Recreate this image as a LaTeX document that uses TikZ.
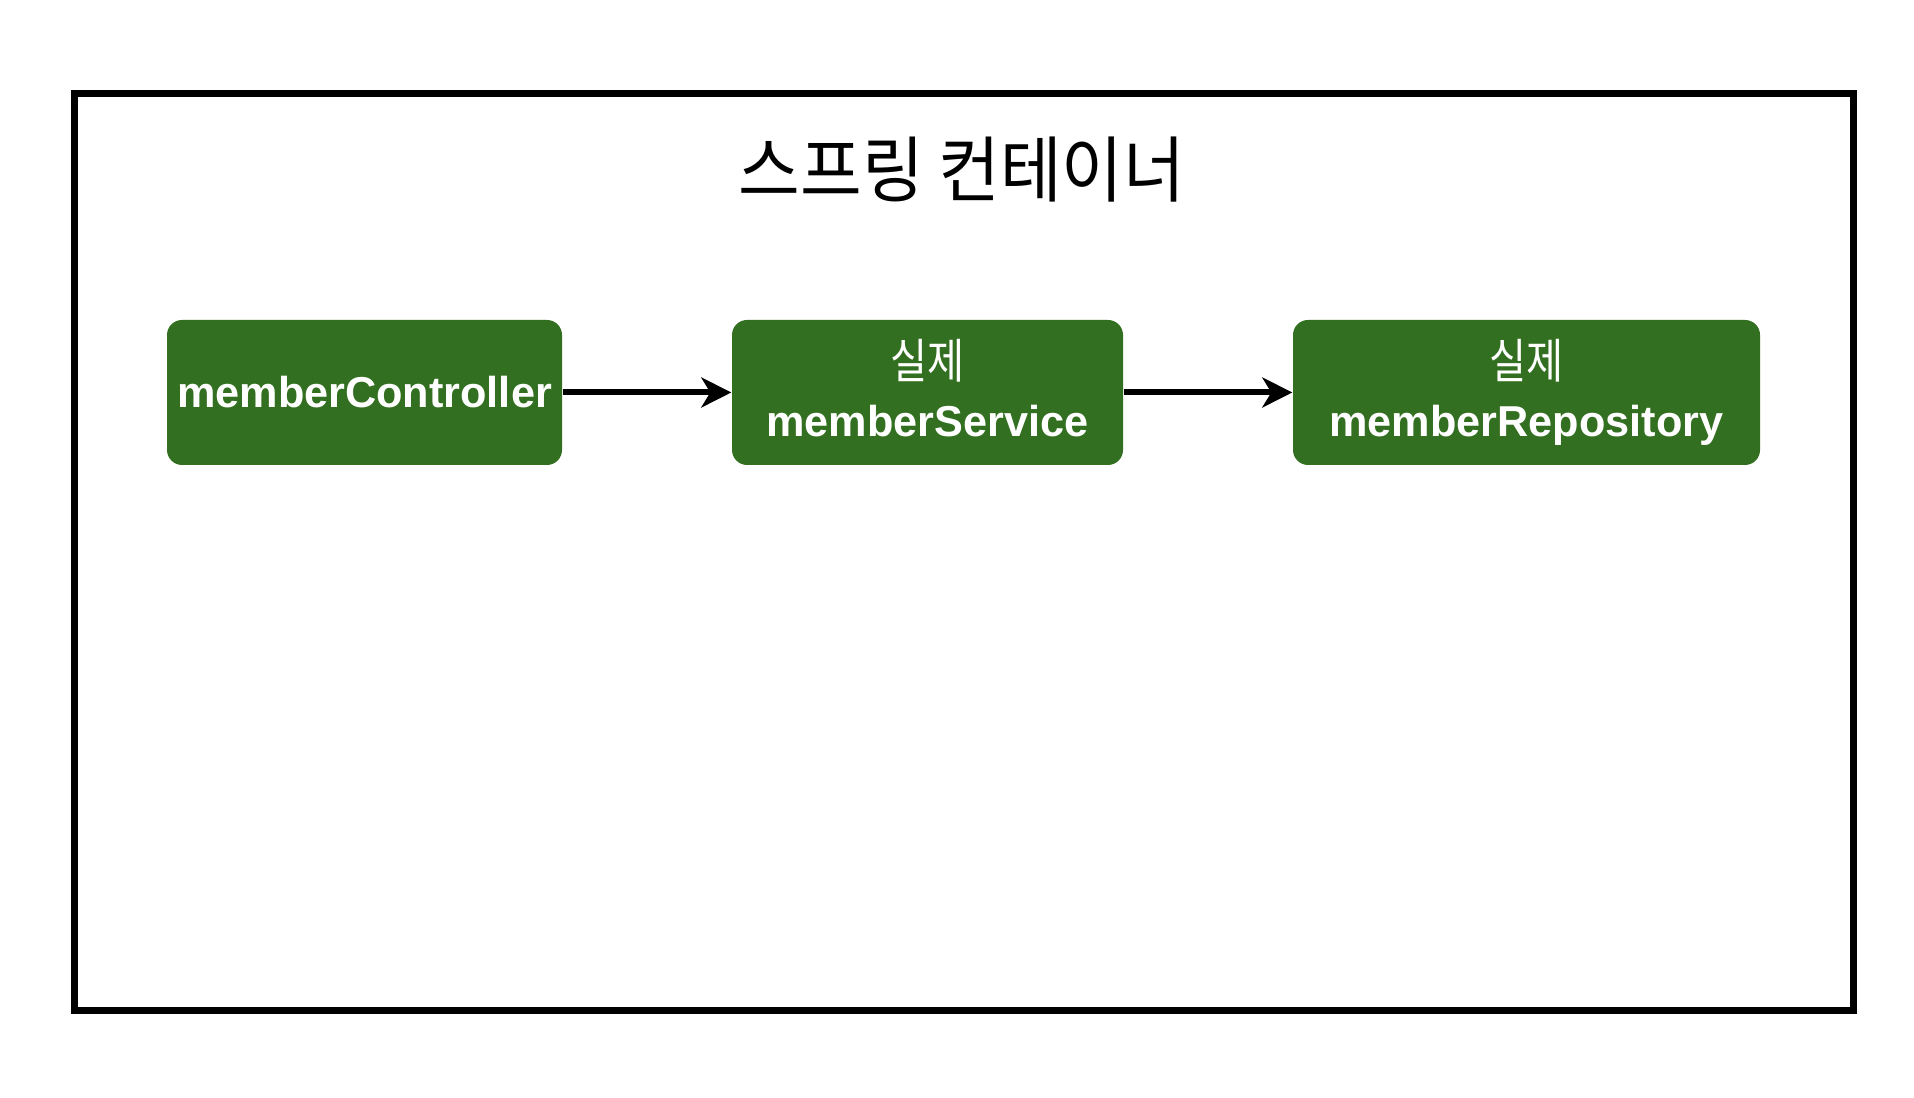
\documentclass[tikz,border=0pt]{standalone}
\usepackage{fontspec}
\setmainfont{Liberation Sans}
\newfontfamily\krfont{Noto Sans CJK KR}[FakeStretch=0.85]
\newfontfamily\krtitle{Noto Sans CJK KR}[FakeStretch=0.93]
\usetikzlibrary{arrows.meta}
\definecolor{beangreen}{RGB}{51,111,32}
\begin{document}
\begin{tikzpicture}[
    bean/.style={fill=beangreen, text=white, rounded corners=0.15cm, minimum height=1.45cm,
                 inner sep=0pt, align=center, font=\bfseries\fontsize{12.3}{16.5}\selectfont},
    wire/.style={-{Stealth[length=0.3cm, width=0.3cm, inset=0.09cm]}, line width=0.06cm}]
  \useasboundingbox (0,0) rectangle (19.14,10.98);

  % container
  \draw[line width=0.07cm] (0.745,0.875) rectangle (18.53,10.045);
  \node (title) at (9.62,9.28) {\krtitle\fontsize{20.5}{24}\selectfont 스프링 컨테이너};

  % beans
  \node[bean, minimum width=3.95cm] (ctrl) at (3.645,7.055) {memberController};
  \node[bean, minimum width=3.91cm] (svc)  at (9.275,7.055) {{\krfont\mdseries\fontsize{13.5}{16.5}\selectfont 실제}\\memberService\vphantom{p}};
  \node[bean, minimum width=4.67cm] (repo) at (15.265,7.055) {{\krfont\mdseries\fontsize{13.5}{16.5}\selectfont 실제}\\memberRepository};

  \draw[wire] (ctrl) -- (svc);
  \draw[wire] (svc) -- (repo);
\end{tikzpicture}
\end{document}
